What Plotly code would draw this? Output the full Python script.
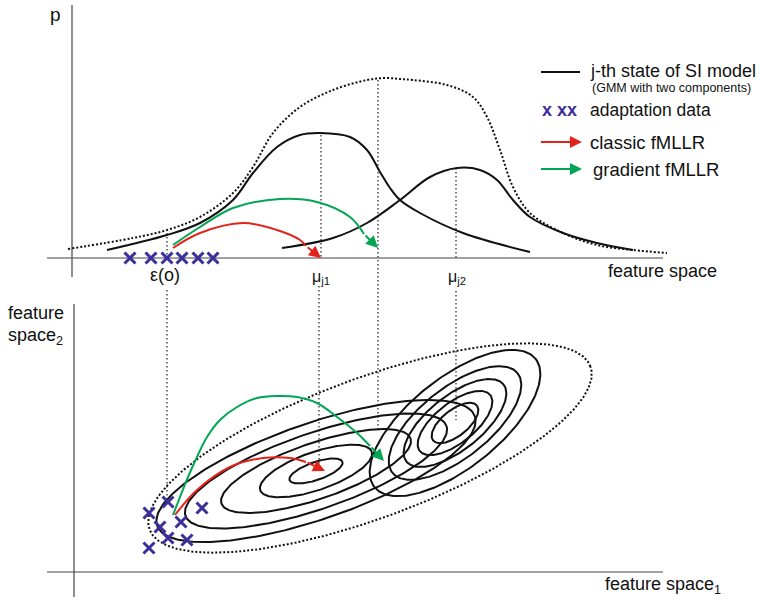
import numpy as np
import plotly.graph_objects as go

# ---------------- data (diagram coordinates, y grows downward) ----------------
# top panel: 1-D densities
mix_x = [68, 133, 167, 200, 233, 253, 273, 300, 333, 367, 385, 400, 413, 447, 473, 487, 500, 513, 530, 563, 597, 633, 667]
mix_y = [249, 238, 230, 217, 193, 167, 133, 107, 90, 80, 78, 79, 80, 85, 97, 117, 150, 187, 213, 233, 245, 250, 253]

comp1_x = [107, 167, 200, 233, 253, 277, 300, 320, 350, 367, 380, 390, 400, 420, 463, 530]
comp1_y = [250, 235, 223, 200, 173, 147, 135, 133, 137, 150, 172, 188, 200, 213, 233, 252]

comp2_x = [282, 333, 367, 400, 430, 457, 480, 497, 513, 530, 563, 597, 633]
comp2_y = [248, 238, 223, 200, 177, 168, 170, 180, 200, 217, 233, 243, 250]

# adaptation data
adapt1d_x = [130, 151, 167, 182, 198, 213]
adapt1d_y = [258, 258, 258, 258, 258, 258]
adapt2d_x = [168, 149, 202, 160, 181, 168, 187, 149]
adapt2d_y = [502, 513, 508, 527, 522, 538, 540, 548]

# transform arrows (path points, then arrow tip)
red_top_x = [173, 200, 243, 277, 300, 306]
red_top_y = [248, 233, 223, 230, 240, 246]
red_top_tip = (321, 258)
green_top_x = [173, 200, 233, 280, 317, 350, 364]
green_top_y = [245, 227, 208, 199, 202, 217, 234]
green_top_tip = (378, 248)
red_bot_x = [175, 197, 230, 263, 290, 306]
red_bot_y = [515, 490, 467, 458, 458, 462]
red_bot_tip = (325, 471)
green_bot_x = [173, 180, 188, 197, 207, 220, 237, 257, 277, 297, 317, 337, 357, 370]
green_bot_y = [515, 497, 477, 457, 437, 420, 407, 398, 396, 397, 403, 417, 433, 446]
green_bot_tip = (384, 461)

# 2-D GMM contours: centre, tilt (deg), semi-axes
comp1_centre = (316, 471)
comp1_tilt = 19
comp1_a = [28, 59, 100, 138, 168]
comp1_b = [9, 19, 28, 38, 48]
comp2_centre = (455, 423)
comp2_tilt = 38.5
comp2_a = [28, 45, 62, 80, 103]
comp2_b = [13, 20, 27, 35, 45]
mix_centre = (370, 448)
mix_tilt = 20.3
mix_a = 235
mix_b = 70

# projection guides (x, y_start, y_end)
guides = [
    (167, 233, 258), (167, 290, 500),
    (321, 135, 258), (319, 286, 467),
    (378, 80, 430),
    (456, 168, 258), (456, 291, 420),
]

# axes of the two panels
axes_lines = [
    ((47, 663), (258, 258)), ((72, 72), (5, 277)),
    ((47, 663), (572, 572)), ((74, 74), (304, 597)),
]

BLACK = "#111111"
RED = "#e2231a"
GREEN = "#00a651"
BLUE = "#3a2f9c"
FONT = "Liberation Sans, Arial, sans-serif"


def ellipse(centre, tilt, a, b, n=240):
    t = np.linspace(0, 2 * np.pi, n)
    th = np.deg2rad(tilt)
    x = centre[0] + a * np.cos(t) * np.cos(th) - b * np.sin(t) * np.sin(th)
    y = centre[1] - (a * np.cos(t) * np.sin(th) + b * np.sin(t) * np.cos(th))
    return x, y


fig = go.Figure()

# axes
for xs, ys in axes_lines:
    fig.add_trace(go.Scatter(x=list(xs), y=list(ys), mode="lines",
                             line=dict(color="#444444", width=1.2), hoverinfo="skip"))

# guides
for gx, y0, y1 in guides:
    fig.add_trace(go.Scatter(x=[gx, gx], y=[y0, y1], mode="lines",
                             line=dict(color="#222222", width=1.2, dash="1.5px,2.5px"), hoverinfo="skip"))

# densities
fig.add_trace(go.Scatter(x=mix_x, y=mix_y, mode="lines", line_shape="spline",
                         line=dict(color=BLACK, width=2, dash="2px,2px")))
fig.add_trace(go.Scatter(x=comp1_x, y=comp1_y, mode="lines", line_shape="spline",
                         line=dict(color=BLACK, width=2)))
fig.add_trace(go.Scatter(x=comp2_x, y=comp2_y, mode="lines", line_shape="spline",
                         line=dict(color=BLACK, width=2)))

# contours
for a, b in zip(comp1_a, comp1_b):
    ex, ey = ellipse(comp1_centre, comp1_tilt, a, b)
    fig.add_trace(go.Scatter(x=ex, y=ey, mode="lines", line=dict(color=BLACK, width=2)))
for a, b in zip(comp2_a, comp2_b):
    ex, ey = ellipse(comp2_centre, comp2_tilt, a, b)
    fig.add_trace(go.Scatter(x=ex, y=ey, mode="lines", line=dict(color=BLACK, width=2)))
ex, ey = ellipse(mix_centre, mix_tilt, mix_a, mix_b, 400)
fig.add_trace(go.Scatter(x=ex, y=ey, mode="lines", line=dict(color=BLACK, width=2, dash="2px,2px")))

# arrows (curved body + head)
annotations = []
for px, py, tip, col in [
    (red_top_x, red_top_y, red_top_tip, RED),
    (green_top_x, green_top_y, green_top_tip, GREEN),
    (red_bot_x, red_bot_y, red_bot_tip, RED),
    (green_bot_x, green_bot_y, green_bot_tip, GREEN),
]:
    fig.add_trace(go.Scatter(x=px, y=py, mode="lines", line_shape="spline",
                             line=dict(color=col, width=2)))
    annotations.append(dict(x=tip[0], y=tip[1], ax=px[-1], ay=py[-1], xref="x", yref="y",
                            axref="x", ayref="y", text="", showarrow=True, arrowhead=2,
                            arrowsize=1.2, arrowwidth=2, arrowcolor=col, standoff=0))

# adaptation data
for xs, ys in [(adapt1d_x, adapt1d_y), (adapt2d_x, adapt2d_y)]:
    fig.add_trace(go.Scatter(x=xs, y=ys, mode="markers",
                             marker=dict(symbol="x-thin", size=11, line=dict(color=BLUE, width=3))))

# legend graphics
fig.add_trace(go.Scatter(x=[541, 580], y=[72, 72], mode="lines", line=dict(color=BLACK, width=2)))
fig.add_trace(go.Scatter(x=[541, 570], y=[142, 142], mode="lines", line=dict(color=RED, width=2)))
fig.add_trace(go.Scatter(x=[541, 570], y=[169, 169], mode="lines", line=dict(color=GREEN, width=2)))
for yy, col in [(142, RED), (169, GREEN)]:
    annotations.append(dict(x=582, y=yy, ax=566, ay=yy, xref="x", yref="y", axref="x", ayref="y",
                            text="", showarrow=True, arrowhead=2, arrowsize=1.2, arrowwidth=2,
                            arrowcolor=col, standoff=0))


def label(x, y, text, size=18, anchor="left", color=BLACK, yanchor="middle"):
    annotations.append(dict(x=x, y=y, xref="x", yref="y", text=text, showarrow=False,
                            xanchor=anchor, yanchor=yanchor,
                            font=dict(family=FONT, size=size, color=color)))


label(55, 14, "p", 19, "center")
label(719, 271, "feature space", 18, "right")
label(165, 275, "ε(o)", 18, "center")
label(321, 277, "μ<sub>j1</sub>", 16, "center")
label(457, 277, "μ<sub>j2</sub>", 16, "center")
label(6, 313, "feature", 18, "left")
label(6, 336, "space<sub>2</sub>", 18, "left")
label(723, 585, "feature space<sub>1</sub>", 18, "right")
label(588, 71, "j-th state of SI model", 18)
label(590, 88, "(GMM with two components)", 12.5)
label(540, 110, "<b>x xx</b>", 18, color=BLUE)
label(588, 110, "adaptation data", 17.5)
label(588, 142, "classic fMLLR", 18.5)
label(591, 169, "gradient fMLLR", 18.5)

fig.update_layout(
    width=763, height=600,
    margin=dict(l=0, r=0, t=0, b=0),
    paper_bgcolor="white", plot_bgcolor="white",
    showlegend=False,
    xaxis=dict(range=[0, 763], visible=False, fixedrange=True),
    yaxis=dict(range=[600, 0], visible=False, fixedrange=True),
    annotations=annotations,
)

fig.write_html("out.html", config={"displayModeBar": False},
               post_script="document.body.style.margin='0px';document.body.style.overflow='hidden';")
